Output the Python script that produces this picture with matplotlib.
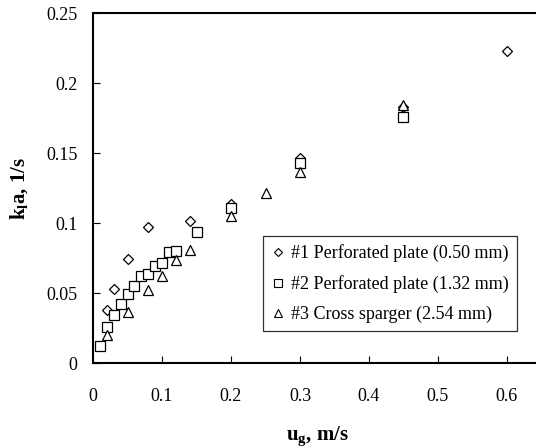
import matplotlib
matplotlib.use("Agg")
import matplotlib.pyplot as plt

plt.rcParams['font.family'] = ['Liberation Serif', 'DejaVu Serif']
plt.rcParams['mathtext.fontset'] = 'custom'
plt.rcParams['mathtext.rm'] = 'Liberation Serif'
plt.rcParams['mathtext.bf'] = 'Liberation Serif:bold'
plt.rcParams['mathtext.it'] = 'Liberation Serif:italic'

# Series 1: Perforated plate (0.50 mm)
ug1 = [0.02, 0.03, 0.05, 0.08, 0.14, 0.20, 0.30, 0.45, 0.60]
kla1 = [0.038, 0.053, 0.074, 0.097, 0.1015, 0.1135, 0.1465, 0.183, 0.223]

# Series 2: Perforated plate (1.32 mm)
ug2 = [0.01, 0.02, 0.03, 0.04, 0.05, 0.06, 0.07, 0.08, 0.09, 0.10, 0.11, 0.12, 0.15, 0.20, 0.30, 0.45]
kla2 = [0.0125, 0.026, 0.0345, 0.042, 0.049, 0.0552, 0.062, 0.0636, 0.0695, 0.0717, 0.0795, 0.0802, 0.0933, 0.1105, 0.1426, 0.176]

# Series 3: Cross sparger (2.54 mm)
ug3 = [0.02, 0.05, 0.08, 0.10, 0.12, 0.14, 0.20, 0.25, 0.30, 0.45]
kla3 = [0.020, 0.0367, 0.052, 0.062, 0.0736, 0.081, 0.105, 0.1217, 0.1367, 0.184]

labels = ["#1 Perforated plate (0.50 mm)",
          "#2 Perforated plate (1.32 mm)",
          "#3 Cross sparger (2.54 mm)"]

xticks = [0, 0.1, 0.2, 0.3, 0.4, 0.5, 0.6]
xticklabels = ["0", "0.1", "0.2", "0.3", "0.4", "0.5", "0.6"]
yticks = [0, 0.05, 0.1, 0.15, 0.2, 0.25]
yticklabels = ["0", "0.05", "0.1", "0.15", "0.2", "0.25"]

fig = plt.figure(figsize=(5.36, 4.48), dpi=100)
ax = fig.add_axes([93/536, (448-363)/448, 448.5/536, 350/448])

mk = dict(linestyle='none', markerfacecolor='white', markeredgecolor='black',
          markeredgewidth=0.9, clip_on=False)
ax.plot(ug1, kla1, marker='D', markersize=5.5, label=labels[0], **mk)
ax.plot(ug2, kla2, marker='s', markersize=6.6, label=labels[1], **mk)
ax.plot(ug3, kla3, marker='^', markersize=7.5, label=labels[2], **mk)

ax.set_xlim(0, 0.65)
ax.set_ylim(0, 0.25)
ax.set_xticks(xticks)
ax.set_xticklabels(xticklabels)
ax.set_yticks(yticks)
ax.set_yticklabels(yticklabels)
ax.tick_params(direction='in', length=5, width=0.8, labelsize=13)
ax.tick_params(axis='x', pad=18)
ax.tick_params(axis='y', pad=11)
for s in ax.spines.values():
    s.set_linewidth(1.5)
ax.spines['right'].set_visible(False)

ax.set_xlabel(r'$\mathbf{u_{g}}$, m/s', fontsize=15, fontweight='bold', labelpad=14)
ax.set_ylabel(r'$\mathbf{k_{l}}$a, 1/s', fontsize=15, fontweight='bold', labelpad=12)

leg = ax.legend(loc='upper left', bbox_to_anchor=(0.379, 0.363), borderaxespad=0,
                fontsize=13, frameon=True, fancybox=False, edgecolor='black',
                handlelength=0.78, handletextpad=0.33, borderpad=0.45, labelspacing=0.72,
                numpoints=1)
leg.get_frame().set_linewidth(0.9)
sizes = [4.3, 5.2, 5.8]
for h, sz in zip(leg.legend_handles, sizes):
    h.set_markersize(sz)
    h.set_markeredgewidth(0.8)

fig.savefig("out.png", dpi=100)
